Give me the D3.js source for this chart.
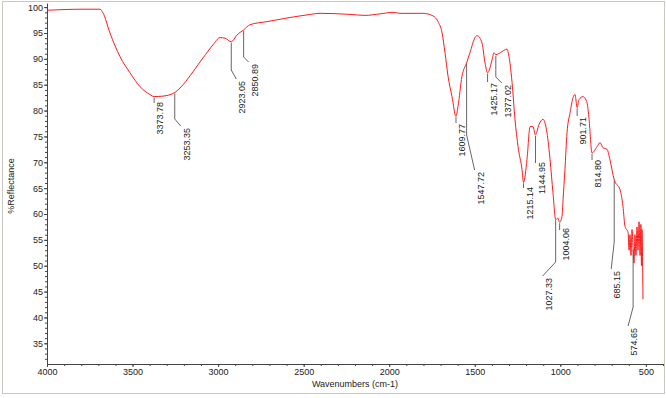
<!DOCTYPE html>
<html>
<head>
<meta charset="utf-8">
<script src="https://cdn.jsdelivr.net/npm/d3@7"></script>
<style>
  body { margin: 0; background: #fff; }
  text { font-family: Arial, "Liberation Sans", sans-serif; }
</style>
</head>
<body>
<div id="chart"></div>
<script>
// Spectrum (wavenumber in cm-1, %Reflectance)
var wavenumbers = [
  4000, 3924, 3807, 3690, 3673, 3632, 3573, 3515, 3456, 3398,
  3374, 3322, 3253, 3205, 3147, 3088, 3030, 2989, 2960, 2923,
  2890, 2851, 2814, 2714, 2597, 2480, 2404, 2229, 2141, 2054,
  1978, 1937, 1802, 1744, 1715, 1691, 1674, 1656, 1633, 1610,
  1598, 1575, 1548, 1528, 1499, 1487, 1458, 1440, 1425, 1399,
  1388, 1377, 1341, 1312, 1306, 1282, 1265, 1247, 1224, 1215,
  1195, 1177, 1160, 1145, 1125, 1101, 1078, 1060, 1043, 1027,
  1015, 1004, 990, 984, 973, 961, 943, 926, 914, 902,
  891, 867, 844, 832, 815, 786, 768, 750, 727, 710,
  685, 651, 634, 622, 604, 598, 593, 587, 581, 575,
  569, 564, 558, 552, 546, 540, 534, 529, 526, 523,
  517
];
var reflectance = [
  99.4, 99.5, 99.6, 99.6, 98.9, 95.0, 90.4, 87.3, 84.6, 83.1,
  82.7, 82.8, 83.5, 85.0, 87.5, 90.2, 92.7, 94.1, 94.0, 93.3,
  94.6, 95.6, 96.6, 97.2, 97.9, 98.5, 98.8, 98.6, 98.4, 98.7,
  99.0, 98.8, 98.8, 98.3, 97.2, 95.0, 91.2, 86.6, 82.7, 78.9,
  80.8, 86.6, 89.2, 91.2, 94.1, 94.5, 93.1, 89.2, 87.3, 89.8,
  91.2, 90.8, 91.4, 91.9, 91.4, 85.4, 78.3, 73.0, 68.6, 66.1,
  70.5, 76.9, 76.9, 75.3, 77.3, 78.3, 75.7, 70.5, 64.1, 58.9,
  59.2, 58.4, 59.6, 62.8, 68.6, 75.7, 79.6, 82.5, 83.1, 80.6,
  82.1, 82.7, 81.5, 78.3, 71.8, 73.0, 73.8, 72.8, 72.5, 70.5,
  66.6, 64.7, 61.5, 57.6, 56.4, 53.0, 56.0, 52.0, 57.0, 53.5,
  50.5, 56.0, 52.0, 57.5, 53.0, 58.5, 52.0, 58.0, 50.0, 57.0,
  43.5
];

// Peak labels
var peakLabels = ['3373.78', '3253.35', '2923.05', '2850.89', '1609.77', '1547.72',
  '1425.17', '1377.02', '1215.14', '1144.95', '1027.33', '1004.06',
  '901.71', '814.80', '685.15', '574.65'];

// Where each leader line bends and where its label starts (pixels)
var leaderDrop = [103, 119, 70, 57, 123, 135, 82, 77, 188, 163, 262, 230, 116, 160, 242, 307];
var leaderShift = [0, 6, 5, 5, 0, 8, 0, 6, 0, 0, -13, 0, 0, 0, -3, -5];
var labelTop = [102, 128, 81, 64, 124, 172, 83, 85, 187, 162, 278, 228, 117, 160, 271, 328];

var xTicks = [4000, 3500, 3000, 2500, 2000, 1500, 1000, 500];
var yTicks = [35, 40, 45, 50, 55, 60, 65, 70, 75, 80, 85, 90, 95, 100];

var width = 666, height = 398;
var x = d3.scaleLinear().domain([4000, 400]).range([47, 663]);
var y = d3.scaleLinear().domain([31, 100.8]).range([364, 3]);

var svg = d3.select('#chart').append('svg')
  .attr('width', width)
  .attr('height', height);

// outer frame
svg.append('rect')
  .attr('x', 2.5).attr('y', 1.5)
  .attr('width', 662).attr('height', 392)
  .attr('fill', '#fff')
  .attr('stroke', '#c9c9c1');

// minor ticks
svg.append('g')
  .attr('transform', 'translate(0,364)')
  .call(d3.axisBottom(x).tickValues(d3.range(4000, 399, -100)).tickSize(2).tickFormat(''))
  .call(function (g) { g.select('.domain').remove(); })
  .selectAll('line').attr('stroke', '#444');

svg.append('g')
  .attr('transform', 'translate(47,0)')
  .call(d3.axisLeft(y).tickValues(d3.range(32, 101, 1)).tickSize(2).tickFormat(''))
  .call(function (g) { g.select('.domain').remove(); })
  .selectAll('line').attr('stroke', '#444');

// main axes
var xAxis = svg.append('g')
  .attr('transform', 'translate(0,364)')
  .call(d3.axisBottom(x).tickValues(xTicks).tickFormat(d3.format('d'))
    .tickSize(3).tickPadding(2).tickSizeOuter(0));

var yAxis = svg.append('g')
  .attr('transform', 'translate(47,0)')
  .call(d3.axisLeft(y).tickValues(yTicks).tickFormat(d3.format('d'))
    .tickSize(3).tickPadding(1).tickSizeOuter(0));

[xAxis, yAxis].forEach(function (g) {
  g.select('.domain').attr('stroke', '#444');
  g.selectAll('line').attr('stroke', '#444');
  g.selectAll('text')
    .attr('font-size', 9)
    .attr('font-family', 'Arial, "Liberation Sans", sans-serif')
    .attr('fill', '#222');
});

// axis titles
svg.append('text')
  .attr('x', 355).attr('y', 387)
  .attr('text-anchor', 'middle')
  .attr('font-size', 9)
  .attr('fill', '#222')
  .text('Wavenumbers (cm-1)');

svg.append('text')
  .attr('transform', 'translate(10.5,186) rotate(-90)')
  .attr('text-anchor', 'middle')
  .attr('dy', '0.35em')
  .attr('font-size', 9)
  .attr('fill', '#222')
  .text('%Reflectance');

// spectrum
var points = wavenumbers.map(function (w, i) { return [w, reflectance[i]]; });

svg.append('path')
  .datum(points)
  .attr('fill', 'none')
  .attr('stroke', '#ff1a1a')
  .attr('stroke-width', 1)
  .attr('d', d3.line()
    .curve(d3.curveMonotoneX)
    .x(function (d) { return x(d[0]); })
    .y(function (d) { return y(d[1]); }));

// value of the spectrum at a wavenumber
function valueAt(w) {
  for (var i = 0; i < wavenumbers.length - 1; i++) {
    var a = wavenumbers[i], b = wavenumbers[i + 1];
    if (w <= a && w >= b) {
      var t = (a - w) / (a - b);
      return reflectance[i] + t * (reflectance[i + 1] - reflectance[i]);
    }
  }
  return reflectance[reflectance.length - 1];
}

// leader lines and peak labels
peakLabels.forEach(function (lab, i) {
  var w = parseFloat(lab);
  var px = x(w), py = y(valueAt(w)) + 1;
  var pts = [[px, py], [px, leaderDrop[i]]];
  var endX = px + leaderShift[i];
  if (leaderShift[i] !== 0) {
    pts.push([endX, labelTop[i] - 2]);
  }
  svg.append('path')
    .attr('d', d3.line()(pts))
    .attr('fill', 'none')
    .attr('stroke', '#555')
    .attr('stroke-width', 0.9);

  svg.append('text')
    .attr('transform', 'translate(' + (endX + 6) + ',' + labelTop[i] + ') rotate(-90)')
    .attr('text-anchor', 'end')
    .attr('dy', '0.35em')
    .attr('font-size', 9)
    .attr('fill', '#222')
    .text(lab);
});
</script>
</body>
</html>
